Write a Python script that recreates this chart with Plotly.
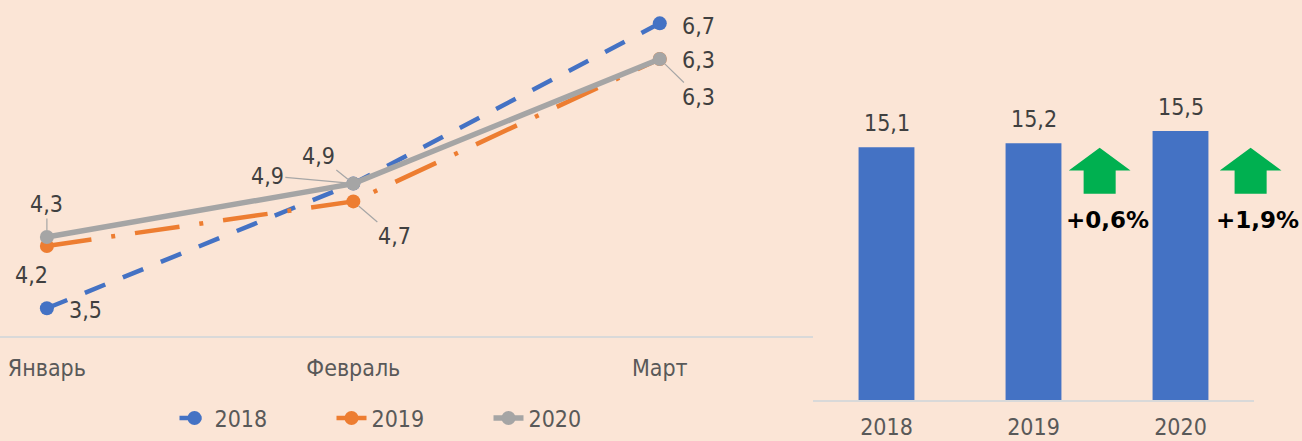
import plotly.graph_objects as go

# ---------------- data ----------------
months = ["Январь", "Февраль", "Март"]
series_names = ["2018", "2019", "2020"]
s2018 = [3.5, 4.9, 6.7]
s2019 = [4.2, 4.7, 6.3]
s2020 = [4.3, 4.9, 6.3]

years = ["2018", "2019", "2020"]
totals = [15.1, 15.2, 15.5]
growth = ["+0,6%", "+1,9%"]

# ---------------- style ----------------
BG = "#FBE5D6"
BLUE, ORANGE, GRAY, GREEN = "#4472C4", "#ED7D31", "#A5A5A5", "#00B050"
TXT, AXTXT, AXLINE = "#404040", "#595959", "#D9D9D9"
FONT = "DejaVu Sans Condensed"
FS = 23

W, H = 1302, 441


def fmt(v):
    return f"{v:.1f}".replace(".", ",")


series = [
    (series_names[0], s2018, BLUE, "22px,19px", 4.5),
    (series_names[1], s2019, ORANGE, "45px,20px,4px,20px", 4.5),
    (series_names[2], s2020, GRAY, "solid", 5.5),
]

# label offsets (dx, dy in px, screen down positive, leader line?)
label_style = {
    "2018": [(39, 2, False), (-35, -28, True), (39, 3, False)],
    "2019": [(-15, 29, False), (41, 35, True), (39, 38, True)],
    "2020": [(0, -33, True), (-86, -8, True), (39, 1, False)],
}

fig = go.Figure()

for name, vals, col, dash, lw in series:
    fig.add_trace(go.Scatter(
        x=months, y=vals, name=name, mode="lines+markers",
        line=dict(color=col, width=lw, dash=dash),
        marker=dict(color=col, size=14),
        xaxis="x", yaxis="y", cliponaxis=False,
    ))

annotations = []
for name, vals, col, dash, lw in series:
    for m, v, (dx, dy, lead) in zip(months, vals, label_style[name]):
        a = dict(x=m, y=v, xref="x", yref="y", text=fmt(v),
                 font=dict(family=FONT, size=FS, color=TXT))
        if lead:
            a.update(showarrow=True, ax=dx, ay=dy, arrowhead=0, arrowwidth=1.2,
                     arrowcolor="#A6A6A6", standoff=7, startstandoff=0)
        else:
            a.update(showarrow=False, xshift=dx, yshift=-dy,
                     xanchor="center", yanchor="middle")
        annotations.append(a)

# ---------------- bar chart ----------------
xb = list(range(len(years)))
X2_RANGE = [-0.5, 2.5]
Y2_RANGE = [8.9, 18.716]
x_split = 813 / W
X2_DOMAIN = [x_split, 1254 / W]


def xd(v):
    return (v - X2_RANGE[0]) / (X2_RANGE[1] - X2_RANGE[0])


def yd(v):
    return (v - Y2_RANGE[0]) / (Y2_RANGE[1] - Y2_RANGE[0])


def xpaper(v):
    return X2_DOMAIN[0] + xd(v) * (X2_DOMAIN[1] - X2_DOMAIN[0])


fig.add_trace(go.Bar(
    x=xb, y=totals, width=0.38, marker=dict(color=BLUE, line=dict(width=0)),
    xaxis="x2", yaxis="y2", showlegend=False,
))

for i, v in zip(xb, totals):
    annotations.append(dict(x=i, y=v, xref="x2", yref="y2", text=fmt(v),
                            showarrow=False, yshift=24, yanchor="middle",
                            font=dict(family=FONT, size=FS, color=TXT)))

# growth arrows (geometry in axis units, converted to domain fractions => not clipped)
HEAD_HW, SHAFT_HW = 0.21, 0.109
TIP, BASE, BOTTOM = 15.09, 14.53, 13.96
ARROW_DX = [0.45, 0.477]
TEXT_DX = [0.5, 0.527]
TEXT_Y = 13.31
shapes = []
for k, g in enumerate(growth):
    c = xb[k + 1] + ARROW_DX[k]
    pts = [(c - HEAD_HW, BASE), (c, TIP), (c + HEAD_HW, BASE),
           (c + SHAFT_HW, BASE), (c + SHAFT_HW, BOTTOM),
           (c - SHAFT_HW, BOTTOM), (c - SHAFT_HW, BASE)]
    path = "M " + " L ".join(f"{xd(px):.5f},{yd(py):.5f}" for px, py in pts) + " Z"
    shapes.append(dict(type="path", path=path, xref="x2 domain", yref="y2 domain",
                       fillcolor=GREEN, line=dict(width=0)))
    annotations.append(dict(x=xpaper(xb[k + 1] + TEXT_DX[k]), y=TEXT_Y,
                            xref="paper", yref="y2",
                            text=f"<b>{g}</b>", showarrow=False, yanchor="middle",
                            xanchor="center",
                            font=dict(family="DejaVu Sans", size=23, color="#000000")))

# ---------------- layout ----------------
fig.update_layout(
    width=W, height=H, autosize=False,
    paper_bgcolor=BG, plot_bgcolor=BG,
    margin=dict(l=0, r=0, t=0, b=0, autoexpand=False),
    font=dict(family=FONT, size=FS, color=AXTXT),
    showlegend=True,
    legend=dict(orientation="h", x=410 / W, xanchor="center",
                y=(H - 418) / H, yanchor="middle",
                font=dict(family=FONT, size=FS, color=AXTXT),
                bgcolor="rgba(0,0,0,0)", entrywidth=112, entrywidthmode="pixels"),
    xaxis=dict(domain=[0, x_split], type="category", range=[-0.153, 2.5],
               anchor="y", automargin=False,
               showline=True, linecolor=AXLINE, linewidth=2, showgrid=False,
               zeroline=False, ticks="", ticklabelstandoff=11,
               tickfont=dict(family=FONT, size=FS, color=AXTXT)),
    yaxis=dict(domain=[(H - 335.7) / H, 1], range=[3.192, 6.962], anchor="x",
               showgrid=False, zeroline=False, showticklabels=False, showline=False),
    xaxis2=dict(domain=X2_DOMAIN, range=X2_RANGE, anchor="y2", automargin=False,
                tickvals=xb, ticktext=years, showline=True, linecolor=AXLINE,
                linewidth=2, showgrid=False, zeroline=False, ticks="",
                ticklabelstandoff=5,
                tickfont=dict(family=FONT, size=FS, color=AXTXT)),
    yaxis2=dict(domain=[(H - 400) / H, 1], range=Y2_RANGE, anchor="x2",
                showgrid=False, zeroline=False, showticklabels=False, showline=False),
    annotations=annotations,
    shapes=shapes,
)

fig.write_html("out.html",
               config={"displayModeBar": False},
               post_script="document.body.style.margin='0';document.body.style.background='" + BG + "';")
